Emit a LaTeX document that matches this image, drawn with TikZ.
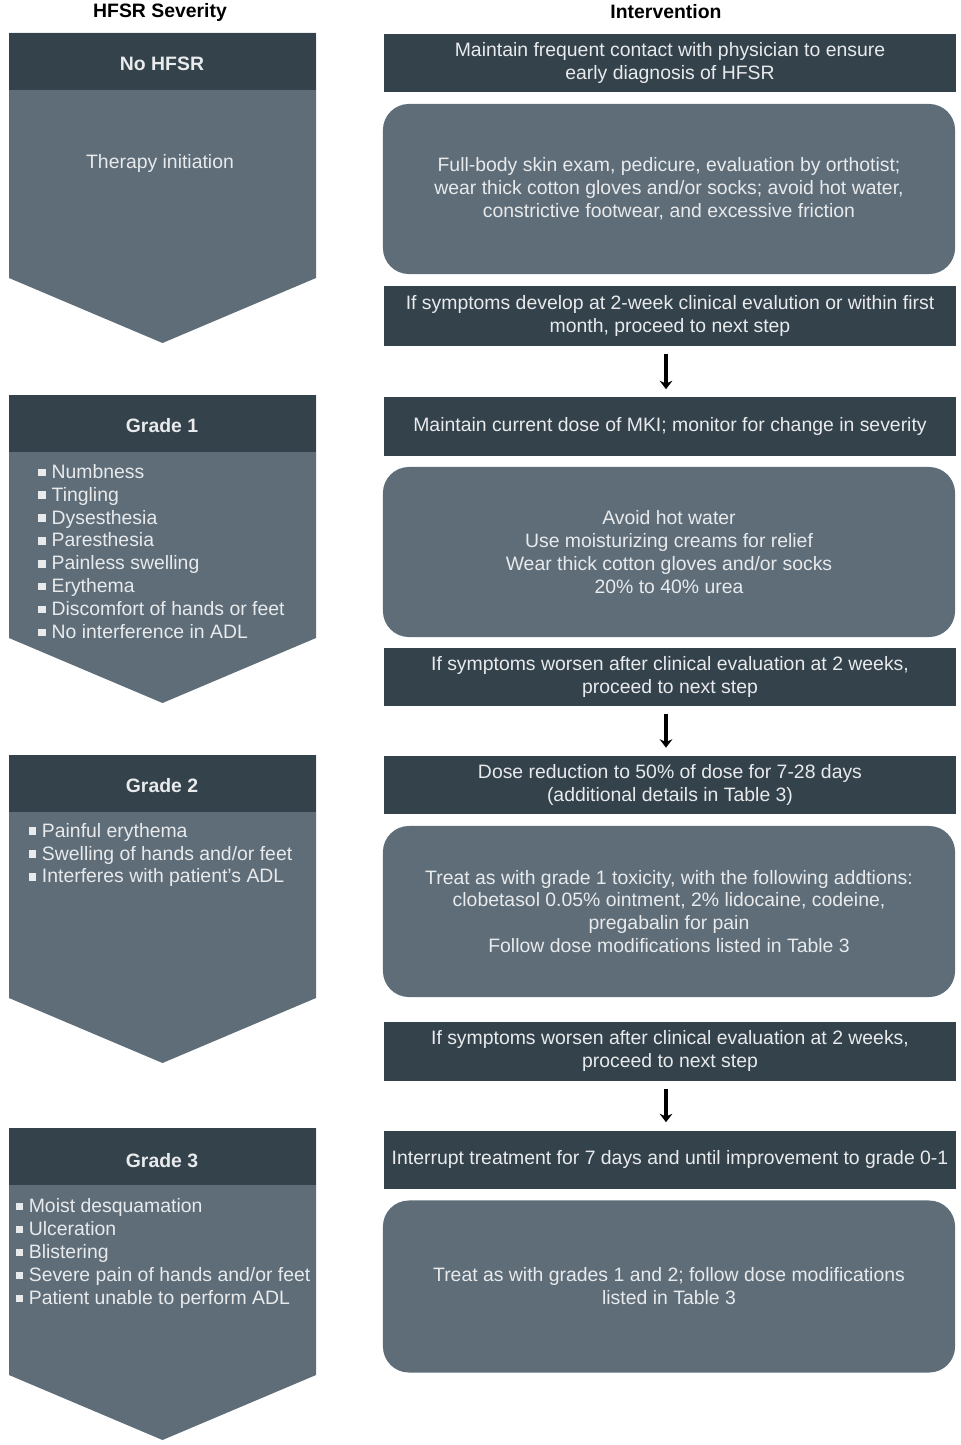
\documentclass[tikz,border=0pt]{standalone}
\usepackage{fontspec}
\setmainfont{Liberation Sans}
\usetikzlibrary{arrows.meta,positioning}

\definecolor{slatedark}{RGB}{52,66,76}
\definecolor{slatesoft}{RGB}{94,109,120}
\definecolor{paletext}{RGB}{232,234,236}
\newcommand{\sqb}{\rule[0.12em]{0.38em}{0.38em}\hspace{0.3em}}

\begin{document}
\begin{tikzpicture}[
    x=0.025cm, y=-0.025cm,
    font=\fontsize{13.8}{16.3}\selectfont,
    colhead/.style={font=\fontsize{13.8}{16.3}\selectfont\bfseries, text=black, inner sep=0pt},
    gradehead/.style={font=\fontsize{13.8}{16.3}\selectfont\bfseries, text=paletext, inner sep=0pt},
    symptoms/.style={text=paletext, align=left, inner sep=0pt},
    darkstep/.style={rectangle, fill=slatedark, text=paletext, minimum width=14.3cm, minimum height=1.45cm, align=center, inner sep=0pt},
    softstep/.style={rectangle, fill=slatesoft, text=paletext, rounded corners=0.65cm, minimum width=14.3cm, minimum height=4.25cm, align=center, inner sep=0pt},
    flow/.style={-{Stealth[length=6pt,width=9pt]}, line width=2.6pt, shorten >=0.2cm, shorten <=0.2cm}
]
\useasboundingbox (0,0) rectangle (960,1445);

% Severity chevrons
\foreach \top/\tip in {33/343, 395/703, 755/1063, 1128/1440}{
  \fill[slatesoft] (9,\top) -- (316,\top) -- (316,{\tip-65}) -- (162.5,\tip) -- (9,{\tip-65}) -- cycle;
  \fill[slatedark] (9,\top) rectangle (316,{\top+57});
}

% Column titles
\node[colhead] (sevtitle) at (160, 12) {HFSR Severity};
\node[colhead] (inttitle) at (666, 12) {Intervention};

% Severity labels
\node[gradehead] (nohfsr) at (162, 64) {No HFSR};
\node[text=paletext, inner sep=0pt] (therapy) at (160, 163) {Therapy initiation};

\node[gradehead] (grade1) at (162, 426) {Grade 1};
\node[symptoms] (g1list) at (161.5, 551.5) {\sqb Numbness\\ \sqb Tingling\\ \sqb Dysesthesia\\ \sqb Paresthesia\\ \sqb Painless swelling\\ \sqb Erythema\\ \sqb Discomfort of hands or feet\\ \sqb No interference in ADL};

\node[gradehead] (grade2) at (162, 786) {Grade 2};
\node[symptoms] (g2list) at (160.5, 855) {\sqb Painful erythema\\ \sqb Swelling of hands and/or feet\\ \sqb Interferes with patient's ADL};

\node[gradehead] (grade3) at (162, 1161) {Grade 3};
\node[symptoms] (g3list) at (163, 1253.5) {\sqb Moist desquamation\\ \sqb Ulceration\\ \sqb Blistering\\ \sqb Severe pain of hands and/or feet\\ \sqb Patient unable to perform ADL};

% Interventions: no HFSR
\node[darkstep] (contact) at (670, 63) {Maintain frequent contact with physician to ensure\\ early diagnosis of HFSR};
\node[softstep] (prevent) at (669, 189) {Full-body skin exam, pedicure, evaluation by orthotist;\\ wear thick cotton gloves and/or socks; avoid hot water,\\ constrictive footwear, and excessive friction};
\node[darkstep, minimum height=1.475cm] (ifdev) at (670, 316) {If symptoms develop at 2-week clinical evalution or within first\\ month, proceed to next step};

% Interventions: grade 1
\node[darkstep] (keepdose) at (670, 426.5) {Maintain current dose of MKI; monitor for change in severity};
\node[softstep] (relief) at (669, 552) {Avoid hot water\\ Use moisturizing creams for relief\\ Wear thick cotton gloves and/or socks\\ 20\% to 40\% urea};
\node[darkstep] (ifworse1) at (670, 677) {If symptoms worsen after clinical evaluation at 2 weeks,\\ proceed to next step};

% Interventions: grade 2
\node[darkstep] (reduce) at (670, 785) {Dose reduction to 50\% of dose for 7-28 days\\ (additional details in Table 3)};
\node[softstep, minimum height=4.275cm] (treat2) at (669, 911.5) {Treat as with grade 1 toxicity, with the following addtions:\\ clobetasol 0.05\% ointment, 2\% lidocaine, codeine,\\ pregabalin for pain\\ Follow dose modifications listed in Table 3};
\node[darkstep, minimum height=1.475cm] (ifworse2) at (670, 1051) {If symptoms worsen after clinical evaluation at 2 weeks,\\ proceed to next step};

% Interventions: grade 3
\node[darkstep] (interrupt) at (670, 1159.5) {Interrupt treatment for 7 days and until improvement to grade 0-1};
\node[softstep, minimum height=4.3cm] (treat3) at (669, 1286.5) {Treat as with grades 1 and 2; follow dose modifications\\ listed in Table 3};

% Step arrows
\draw[flow] ([xshift=-0.1cm]ifdev.south) -- ([xshift=-0.1cm]keepdose.north);
\draw[flow] ([xshift=-0.1cm]ifworse1.south) -- ([xshift=-0.1cm]reduce.north);
\draw[flow] ([xshift=-0.1cm]ifworse2.south) -- ([xshift=-0.1cm]interrupt.north);

\end{tikzpicture}
\end{document}
